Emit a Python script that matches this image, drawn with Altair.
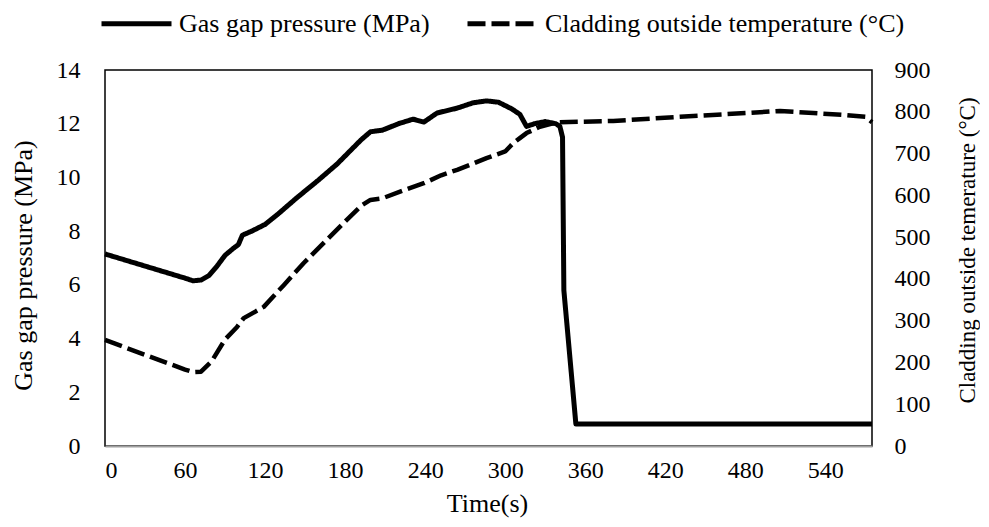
import altair as alt
import pandas as pd

# Gas gap pressure (MPa) vs time (s)
time_p = [0, 20, 40, 60, 66, 72, 78, 84, 90, 96, 100, 103, 110, 120, 130, 144, 160,
          174, 184, 192, 199, 208, 220, 231, 239, 249, 264, 276, 286, 295, 305, 311,
          316, 322, 330, 338, 341, 343, 344, 353, 575]
pressure = [7.15, 6.85, 6.55, 6.25, 6.15, 6.18, 6.35, 6.7, 7.1, 7.35, 7.5, 7.85, 8.0,
            8.25, 8.65, 9.25, 9.9, 10.5, 11.0, 11.4, 11.7, 11.76, 12.0, 12.17, 12.06,
            12.4, 12.58, 12.78, 12.85, 12.8, 12.55, 12.35, 11.9, 12.0, 12.08, 12.0,
            11.9, 11.5, 5.8, 0.82, 0.82]

# Cladding outside temperature (°C) vs time (s)
time_t = [0, 30, 60, 66, 72, 80, 90, 99, 104, 119, 134, 149, 164, 179, 192, 199, 208,
          224, 239, 252, 264, 276, 286, 300, 306, 311, 316, 326, 339, 381, 431, 481,
          506, 531, 556, 570, 575]
temperature = [254, 218, 183, 177, 178, 203, 255, 285, 306, 333, 385, 438, 486, 534,
               575, 589, 593, 612, 629, 648, 661, 676, 689, 705, 725, 737, 749, 764,
               775, 778, 788, 797, 802, 797, 792, 788, 775]

x_ticks = [0, 60, 120, 180, 240, 300, 360, 420, 480, 540]
p_ticks = [0, 2, 4, 6, 8, 10, 12, 14]
t_ticks = [0, 100, 200, 300, 400, 500, 600, 700, 800, 900]

P_LABEL = "Gas gap pressure (MPa)"
T_LABEL = "Cladding outside temperature (°C)"

df_p = pd.DataFrame({"t": time_p, "v": pressure, "series": P_LABEL})
df_t = pd.DataFrame({"t": time_t, "v": temperature, "series": T_LABEL})

FONT = "Liberation Serif"

x_enc = alt.X(
    "t:Q",
    scale=alt.Scale(domain=[0, 575], nice=False, zero=False),
    axis=alt.Axis(
        values=x_ticks, title="Time(s)", ticks=False, grid=False,
        domain=True, domainColor="#a0a0a0", domainWidth=2,
        labelFont=FONT, labelFontSize=24, labelColor="black", labelPadding=12,
        titleFont=FONT, titleFontSize=26, titleFontWeight="normal", titleColor="black",
        titleX=382, titleY=57, titleAlign="center", titleBaseline="middle",
    ),
)

dash = alt.StrokeDash(
    "series:N",
    scale=alt.Scale(domain=[P_LABEL, T_LABEL], range=[[1, 0], [18, 6]]),
    legend=alt.Legend(
        orient="none", legendX=-6, legendY=-84, direction="horizontal", title=None,
        symbolType="stroke", symbolSize=4900, symbolStrokeWidth=5,
        symbolStrokeColor="black", labelFont=FONT, labelFontSize=26,
        labelColor="black", labelOffset=5, columnPadding=27, padding=0,
        labelLimit=600,
    ),
)

p_chart = alt.Chart(df_p).mark_line(color="black", strokeWidth=5, strokeJoin="round").encode(
    x=x_enc,
    y=alt.Y(
        "v:Q",
        scale=alt.Scale(domain=[0, 14], nice=False),
        axis=alt.Axis(
            orient="left", values=p_ticks, title=P_LABEL, ticks=False, grid=False,
            domain=False, labelFont=FONT, labelFontSize=24, labelColor="black",
            labelPadding=25, titleFont=FONT, titleFontSize=26,
            titleFontWeight="normal", titleColor="black", titleAngle=270,
            titleX=-82, titleY=195, titleAlign="center", titleBaseline="middle",
        ),
    ),
    strokeDash=dash,
)

t_chart = alt.Chart(df_t).mark_line(color="black", strokeWidth=4.5, strokeJoin="round").encode(
    x=x_enc,
    y=alt.Y(
        "v:Q",
        scale=alt.Scale(domain=[0, 900], nice=False),
        axis=alt.Axis(
            orient="right", values=t_ticks, title="Cladding outside temerature (°C)",
            ticks=False, grid=False, domain=False, labelFont=FONT, labelFontSize=24,
            labelColor="black", labelPadding=22, titleFont=FONT, titleFontSize=23,
            titleFontWeight="normal", titleColor="black", titleAngle=270,
            titleX=95, titleY=180, titleAlign="center", titleBaseline="middle",
        ),
    ),
    strokeDash=dash,
)

chart = (
    alt.layer(p_chart, t_chart)
    .resolve_scale(y="independent")
    .properties(
        width=767, height=376,
        autosize=alt.AutoSizeParams(type="none"),
        padding={"left": 97, "top": 62, "right": 108, "bottom": 73},
    )
    .configure_view(stroke="black", strokeWidth=1.5)
)

chart.save("out.html", embed_options={"renderer": "svg", "actions": False})
